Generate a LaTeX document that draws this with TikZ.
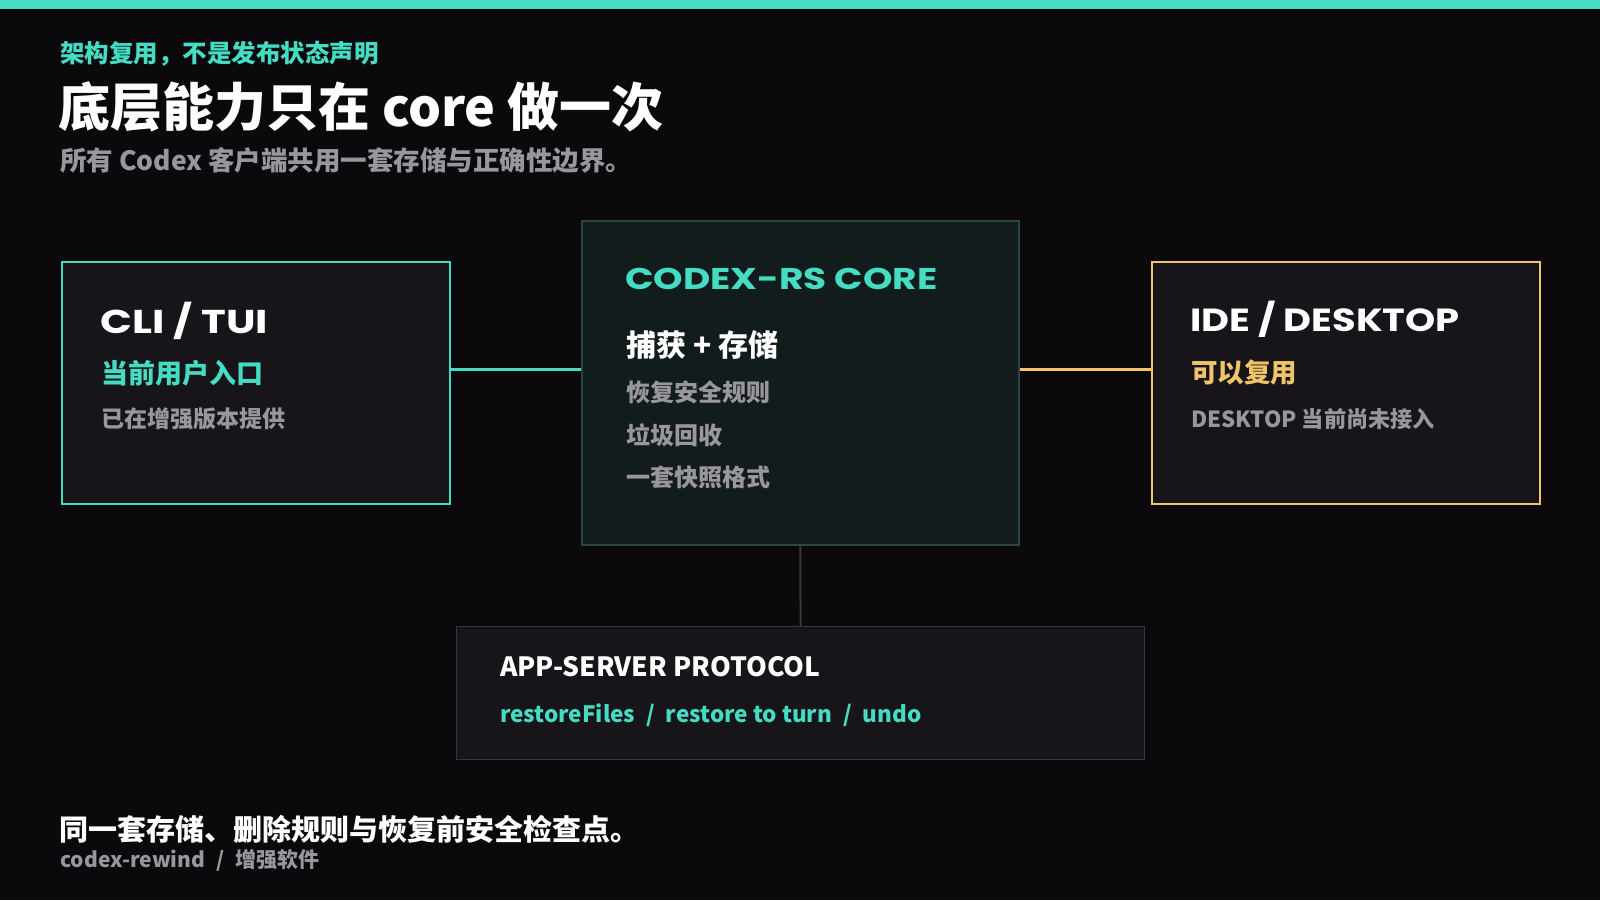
\documentclass[tikz,border=0pt]{standalone}
\usepackage{fontspec}
\setmainfont{Noto Sans CJK SC}
\newfontfamily\wide{Poppins}[BoldFont={* Bold}]
\definecolor{bg}{HTML}{0C090D}
\definecolor{teal}{HTML}{45DCC4}
\definecolor{gold}{HTML}{F0C468}
\definecolor{gr}{HTML}{9A979C}
\definecolor{boxbg}{HTML}{18151A}
\definecolor{corebg}{HTML}{131C1C}
\definecolor{coreln}{HTML}{2C4640}
\definecolor{protln}{HTML}{3A373C}
\newcommand\sep{\hspace{11pt}/\hspace{11pt}}
\begin{document}
\begin{tikzpicture}[x=1pt,y=-1pt,
  t/.style={anchor=west,inner sep=0pt},
  fs/.style={font=\fontsize{#1}{#1}\selectfont\bfseries}]
\useasboundingbox (0,0) rectangle (1600,900);
\fill[bg] (0,0) rectangle (1600,900);
\fill[teal] (0,0) rectangle (1600,9);
\node[t,text=teal,fs=24.5] (k) at (60,54) {架构复用，不是发布状态声明};
\node[t,text=white,fs=52] (ti) at (58,107) {底层能力只在 core 做一次};
\node[t,text=gr,fs=26.5] (st) at (60,160) {所有 Codex 客户端共用一套存储与正确性边界。};
% boxes
\node[draw=teal,line width=1.5pt,fill=boxbg,minimum width=388,minimum height=242,anchor=north west,inner sep=0] (cli) at (61,261) {};
\node[draw=coreln,line width=1.5pt,fill=corebg,minimum width=437,minimum height=324,anchor=north west,inner sep=0] (core) at (581,220) {};
\node[draw=gold,line width=1.5pt,fill=boxbg,minimum width=388,minimum height=242,anchor=north west,inner sep=0] (ide) at (1151,261) {};
\node[draw=protln,line width=1.2pt,fill=boxbg,minimum width=688,minimum height=133,anchor=north west,inner sep=0] (pr) at (456,626) {};
\draw[teal,line width=3pt] (cli.east |- 0,369) -- (core.west |- 0,369);
\draw[gold,line width=3pt] (core.east |- 0,369) -- (ide.west |- 0,369);
\draw[protln,line width=2pt] (core.south) -- (pr.north);
% CLI
\node[t,text=white,font=\wide\bfseries\fontsize{33}{33}\selectfont] (c1) at (100,321) {\scalebox{1.27}[1]{CLI / TUI}};
\node[t,text=teal,fs=27] (c2) at (101,373) {当前用户入口};
\node[t,text=gr,fs=23] (c3) at (101,419) {已在增强版本提供};
% core
\node[t,text=teal,font=\wide\bfseries\fontsize{30}{30}\selectfont] (o1) at (625,279) {\scalebox{1.25}[1]{CODEX-RS CORE}};
\node[t,text=white,fs=30] (o2) at (626,345) {捕获 + 存储};
\node[t,text=gr,fs=24] (o3) at (626,392) {恢复安全规则};
\node[t,text=gr,fs=24] (o4) at (626,435) {垃圾回收};
\node[t,text=gr,fs=24] (o5) at (626,477) {一套快照格式};
% ide
\node[t,text=white,font=\wide\bfseries\fontsize{32}{32}\selectfont] (i1) at (1190,319) {\scalebox{1.2}[1]{IDE / DESKTOP}};
\node[t,text=gold,fs=26.5] (i2) at (1191,373) {可以复用};
\node[t,text=gr,fs=22.2] (i3) at (1191,419) {DESKTOP 当前尚未接入};
% protocol
\node[t,text=white,fs=26.5] (p1) at (500,667) {APP-SERVER PROTOCOL};
\node[t,text=teal,fs=22.5] (p2) at (500,715) {restoreFiles\sep restore to turn\sep undo};
% footer
\node[t,text=white,fs=29] (f1) at (59,829) {同一套存储、删除规则与恢复前安全检查点。};
\node[t,text=gr,fs=21] (f2) at (60,860) {codex-rewind\sep 增强软件};
\end{tikzpicture}
\end{document}
